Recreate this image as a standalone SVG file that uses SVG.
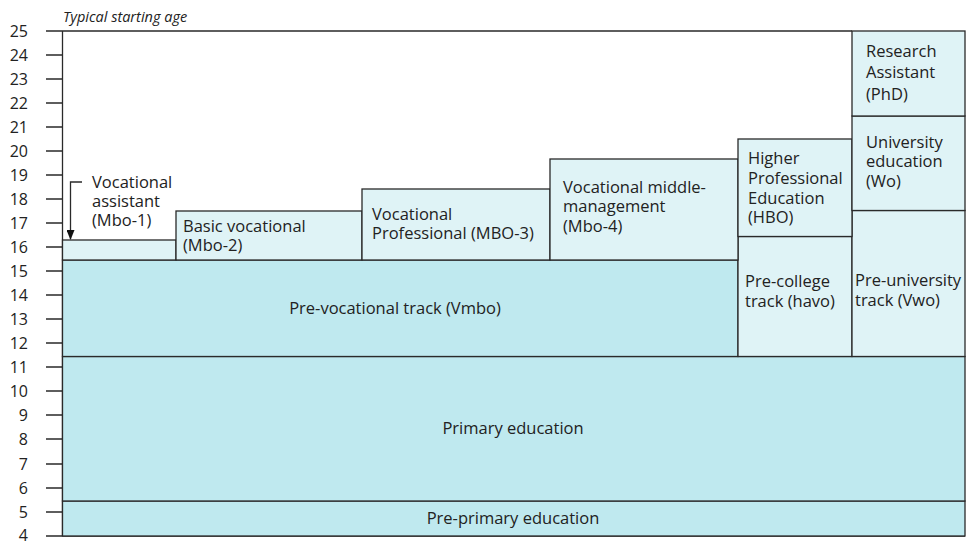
<svg xmlns="http://www.w3.org/2000/svg" width="970" height="542" viewBox="0 0 970 542">
<style>
text{font-family:"Open Sans","Noto Sans",sans-serif;font-size:16.5px;fill:#222}
.ax text{text-anchor:end;font-size:16px}
.c{text-anchor:middle}
.lt{fill:#dff3f6;stroke:#2a2a2a;stroke-width:1.3}
.dk{fill:#bfe9ef;stroke:#2a2a2a;stroke-width:1.3}
.ln{stroke:#2a2a2a;stroke-width:1.3;fill:none}
</style>
<defs>
<marker id="ah" markerWidth="10" markerHeight="8" refX="9" refY="4" orient="auto" markerUnits="userSpaceOnUse">
<path d="M0,0 L10,4 L0,8 Z" fill="#111"/>
</marker>
</defs>
<rect width="970" height="542" fill="#fff"/>
<g id="axis">
<text x="63" y="22" style="font-style:italic;font-size:14.5px">Typical starting age</text>
<path class="ln" d="M46,31 H852 M62.5,31 V536 M46,536 H965"/>
<path class="ln" d="M46,55 H62 M46,79 H62 M46,103 H62 M46,127 H62 M46,151 H62 M46,175 H62 M46,199 H62 M46,223 H62 M46,247 H62 M46,271 H62 M46,295 H62 M46,319 H62 M46,343 H62 M46,367 H62 M46,391 H62 M46,415 H62 M46,439 H62 M46,464 H62 M46,488 H62 M46,512 H62"/>
<g class="ax">
<text x="28" y="37">25</text><text x="28" y="61">24</text><text x="28" y="85">23</text><text x="28" y="109">22</text><text x="28" y="133">21</text><text x="28" y="157">20</text><text x="28" y="181">19</text><text x="28" y="205">18</text><text x="28" y="229">17</text><text x="28" y="253">16</text><text x="28" y="277">15</text><text x="28" y="301">14</text><text x="28" y="325">13</text><text x="28" y="349">12</text><text x="28" y="373">11</text><text x="28" y="397">10</text><text x="28" y="421">9</text><text x="28" y="445">8</text><text x="28" y="470">7</text><text x="28" y="494">6</text><text x="28" y="518">5</text><text x="28" y="541">4</text>
</g>
</g>
<g id="n-preprimary"><rect class="dk" x="62.5" y="501" width="902.5" height="35"/><text class="c" x="513" y="524">Pre-primary education</text></g>
<g id="n-primary"><rect class="dk" x="62.5" y="356.5" width="902.5" height="144.5"/><text class="c" x="513" y="434">Primary education</text></g>
<g id="n-vmbo"><rect class="dk" x="62.5" y="260" width="675.5" height="96.5"/><text class="c" x="395" y="314">Pre-vocational track (Vmbo)</text></g>
<g id="n-havo"><rect class="lt" x="738" y="236.5" width="114" height="120"/><text x="745" y="287">Pre-college</text><text x="745" y="307">track (havo)</text></g>
<g id="n-vwo"><rect class="lt" x="852" y="210.5" width="113" height="146"/><text x="855" y="286">Pre-university</text><text x="855" y="306">track (Vwo)</text></g>
<g id="n-mbo1"><rect class="lt" x="62.5" y="240" width="113.5" height="20"/><text x="92" y="188">Vocational</text><text x="92" y="207">assistant</text><text x="92" y="226">(Mbo-1)</text></g>
<g id="n-mbo2"><rect class="lt" x="176" y="211" width="186" height="49"/><text x="183" y="232">Basic vocational</text><text x="183" y="251">(Mbo-2)</text></g>
<g id="n-mbo3"><rect class="lt" x="362" y="189" width="188" height="71"/><text x="372" y="220">Vocational</text><text x="372" y="239">Professional (MBO-3)</text></g>
<g id="n-mbo4"><rect class="lt" x="550" y="159" width="188" height="101"/><text x="563" y="193">Vocational middle-</text><text x="563" y="212">management</text><text x="563" y="232">(Mbo-4)</text></g>
<g id="n-hbo"><rect class="lt" x="738" y="139" width="114" height="97.5"/><text x="748" y="164">Higher</text><text x="748" y="184">Professional</text><text x="748" y="204">Education</text><text x="748" y="223">(HBO)</text></g>
<g id="n-wo"><rect class="lt" x="852" y="116" width="113" height="94.5"/><text x="866" y="148">University</text><text x="866" y="167">education</text><text x="866" y="187">(Wo)</text></g>
<g id="n-phd"><rect class="lt" x="852" y="31" width="113" height="85"/><text x="866" y="57">Research</text><text x="866" y="78">Assistant</text><text x="866" y="100">(PhD)</text></g>
<g id="connectors">
<path class="ln" d="M82,182 H70.5 V239" marker-end="url(#ah)" stroke-width="1.2"/>
</g>
</svg>
